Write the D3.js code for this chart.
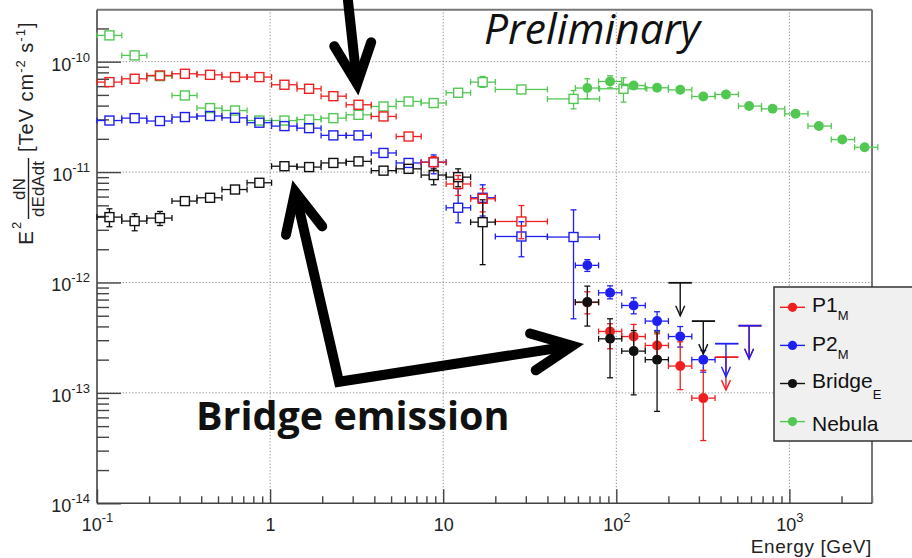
<!DOCTYPE html>
<html>
<head>
<meta charset="utf-8">
<script src="https://cdn.jsdelivr.net/npm/d3@7"></script>
<style>
  html, body { margin: 0; padding: 0; background: #fff; }
  svg { display: block; }
</style>
</head>
<body>
<svg id="chart" width="912" height="558"></svg>
<script>
// ---------------- data ----------------
// Fermi-LAT energy bins (GeV): bin edges and bin centres
const latEdges  = [0.1, 0.139, 0.194, 0.271, 0.378, 0.527, 0.736, 1.02, 1.43, 1.97, 2.75, 3.84, 5.35, 7.46, 10.4, 14.4, 20, 40, 80, 150];
const latEnergy = [0.118, 0.165, 0.231, 0.322, 0.45, 0.627, 0.867, 1.21, 1.68, 2.32, 3.24, 4.52, 6.31, 8.81, 12.2, 16.9, 28.3, 56.6, 110];

// MAGIC energy bins (GeV)
const magicEdges  = [58, 79, 107.5, 147, 200, 273, 372, 508, 690, 940, 1280, 1745, 2380, 3240];
const magicEnergy = [68, 92, 126, 172, 234, 318, 430, 585, 800, 1085, 1480, 2020, 2720];

// E^2 dN/dE [TeV cm^-2 s^-1]; null = error bar hidden by the marker
const p1LatFlux  = [6.53e-11, 7.0e-11, 7.5e-11, 7.77e-11, 7.6e-11, 7.25e-11, 7.25e-11, 6.18e-11, 5.68e-11, 4.87e-11, 4.07e-11, 3.19e-11, 2.1e-11, 1.23e-11, 7.8e-12, 5.73e-12, 3.57e-12];
const p1LatLo    = [null, null, null, null, null, null, null, null, null, null, null, null, null, 1.03e-11, 6.14e-12, 4.36e-12, 2.49e-12];
const p1LatHi    = [null, null, null, null, null, null, null, null, null, null, null, null, null, 1.38e-11, 9.31e-12, 7.06e-12, 4.98e-12];

const p2LatFlux  = [2.93e-11, 3.08e-11, 2.9e-11, 3.15e-11, 3.22e-11, 3.1e-11, 2.8e-11, 2.61e-11, 2.5e-11, 2.15e-11, 2.15e-11, 1.49e-11, 1.21e-11, 1.23e-11, 4.75e-12, 5.85e-12, 2.61e-12, 2.58e-12];
const p2LatLo    = [null, null, null, null, null, null, null, null, null, null, null, null, null, 9.65e-12, 3.47e-12, 4.0e-12, 1.71e-12, 4.69e-13];
const p2LatHi    = [null, null, null, null, null, null, null, null, null, null, null, null, null, 1.43e-11, 7.06e-12, 7.67e-12, 3.55e-12, 4.55e-12];

const bridgeLatFlux = [3.91e-12, 3.6e-12, 3.83e-12, 5.46e-12, 5.85e-12, 6.95e-12, 8.0e-12, 1.13e-11, 1.11e-11, 1.21e-11, 1.25e-11, 1.03e-11, 1.07e-11, 9.4e-12, 9.0e-12, 3.52e-12];
const bridgeLatLo   = [3.2e-12, 2.94e-12, 3.28e-12, null, null, null, null, null, null, null, null, null, null, 7.67e-12, 7.36e-12, 1.45e-12];
const bridgeLatHi   = [4.65e-12, 4.19e-12, 4.4e-12, null, null, null, null, null, null, null, null, null, null, 1.07e-11, 1.07e-11, 5.61e-12];

const nebulaLatFlux = [1.73e-10, 1.14e-10, 7.4e-11, 4.94e-11, 3.8e-11, 3.61e-11, 2.93e-11, 2.93e-11, 2.99e-11, 3.08e-11, 3.3e-11, 3.93e-11, 4.36e-11, 4.22e-11, 5.23e-11, 6.53e-11, 5.6e-11, 4.6e-11, 5.68e-11];
const nebulaLatLo   = [null, null, null, null, null, null, null, null, null, null, null, null, null, null, null, 5.85e-11, null, 3.74e-11, 4.3e-11];
const nebulaLatHi   = [null, null, null, null, null, null, null, null, null, null, null, null, null, null, null, 7.35e-11, null, 5.48e-11, 7.14e-11];

const p1MagicFlux = [6.6e-13, 3.6e-13, 3.24e-13, 2.69e-13, 1.75e-13, 8.97e-14];
const p1MagicLo   = [5.2e-13, 2.51e-13, 2.47e-13, 2.04e-13, 1.07e-13, 3.7e-14];
const p1MagicHi   = [8.24e-13, 4.23e-13, 4.17e-13, 3.43e-13, 2.9e-13, 1.6e-13];
const p1MagicUlBin = [6, 7];
const p1MagicUl    = [2.11e-13, 4.06e-13];

const p2MagicFlux = [1.43e-12, 8.07e-13, 6.19e-13, 4.47e-13, 3.24e-13, 2.0e-13];
const p2MagicLo   = [1.26e-12, 7.11e-13, 5.2e-13, 3.67e-13, 2.6e-13, 1.54e-13];
const p2MagicHi   = [1.61e-12, 9.33e-13, 7.26e-13, 5.43e-13, 3.99e-13, 2.42e-13];
const p2MagicUlBin = [6, 7];
const p2MagicUl    = [2.79e-13, 4.06e-13];

const bridgeMagicFlux = [6.64e-13, 3.09e-13, 2.39e-13, 2.0e-13];
const bridgeMagicLo   = [4.03e-13, 1.37e-13, 9.6e-14, 6.8e-14];
const bridgeMagicHi   = [9.27e-13, 4.69e-13, 3.67e-13, 3.56e-13];
const bridgeMagicUlBin = [4, 5];
const bridgeMagicUl    = [9.93e-13, 4.47e-13];

const nebulaMagicFlux = [5.77e-11, 6.62e-11, 6.08e-11, 5.8e-11, 5.56e-11, 4.84e-11, 5.05e-11, 3.96e-11, 3.74e-11, 3.37e-11, 2.61e-11, 1.97e-11, 1.68e-11];
const nebulaMagicLo   = [4.62e-11, 5.8e-11, null, null, null, null, null, null, null, null, null, null, null];
const nebulaMagicHi   = [7.0e-11, 7.45e-11, null, null, null, null, null, null, null, null, null, null, null];

// axis ticks and labels (base, exponent)
const xMajorTicks = [0.1, 1, 10, 100, 1000];
const xTickLabels = [["10", "-1"], ["1", ""], ["10", ""], ["10", "2"], ["10", "3"]];
const yMajorTicks = [1e-14, 1e-13, 1e-12, 1e-11, 1e-10];
const yTickLabels = [["10", "-14"], ["10", "-13"], ["10", "-12"], ["10", "-11"], ["10", "-10"]];

// legend
const legendNames = ["P1", "P2", "Bridge", "Nebula"];
const legendSubs  = ["M", "M", "E", ""];

// annotation arrows, in (energy GeV, flux) coordinates
const pointerArrow = [[2.79, 4.1e-10], [3.18, 6.3e-11]];
const bridgeArrow  = [[1.395, 6.64e-12], [2.5, 1.26e-13], [55.7, 2.67e-13]];

// ---------------- styles ----------------
const COLORS = { p1: "#f01f1f", p2: "#1f1ff2", bridge: "#111111", nebula: "#52c852" };
const FONT = "'Liberation Sans', Arial, Helvetica, sans-serif";
const CAL = "'Open Sans', 'Liberation Sans', sans-serif";

// ---------------- scales ----------------
const X0 = 97, X1 = 872, Y0 = 503.3, Y1 = 9.8;
const x = d3.scaleLog().domain([0.1, 3000]).range([X0, X1]);
const y = d3.scaleLog().domain([1e-14, 2.95e-10]).range([Y0, Y1]);

const svg = d3.select("#chart");

// ---------------- grid ----------------
const grid = svg.append("g").attr("stroke", "#8a8a8a").attr("stroke-width", 1).attr("stroke-dasharray", "1.2,2");
grid.selectAll("line.gx").data(xMajorTicks.filter(v => v > 0.1)).join("line")
  .attr("x1", d => x(d)).attr("x2", d => x(d)).attr("y1", Y0).attr("y2", Y1);
grid.selectAll("line.gy").data(yMajorTicks.filter(v => v > 1e-14)).join("line")
  .attr("x1", X0).attr("x2", X1).attr("y1", d => y(d)).attr("y2", d => y(d));

// ---------------- axes ----------------
function styleAxis(g) {
  g.select(".domain").remove();
  g.selectAll(".tick line").attr("stroke", "#444").attr("stroke-width", 1.4);
}

// minor ticks
svg.append("g").attr("transform", `translate(0,${Y0})`)
  .call(d3.axisBottom(x).tickValues(x.ticks().filter(v => !xMajorTicks.includes(v))).tickSize(-7).tickFormat(""))
  .call(styleAxis);
svg.append("g").attr("transform", `translate(${X0},0)`)
  .call(d3.axisLeft(y).tickValues(y.ticks().filter(v => !yMajorTicks.some(m => Math.abs(m - v) / m < 1e-6))).tickSize(-12).tickFormat(""))
  .call(styleAxis);

// major ticks with exponent labels
const xAx = svg.append("g").attr("transform", `translate(0,${Y0})`)
  .call(d3.axisBottom(x).tickValues(xMajorTicks).tickSize(-14).tickPadding(15).tickFormat(() => ""))
  .call(styleAxis);
xAx.selectAll(".tick text").each(function (d, i) {
  const t = d3.select(this).attr("font-family", FONT).attr("font-size", 18).attr("fill", "#222");
  t.append("tspan").text(xTickLabels[i][0]);
  if (xTickLabels[i][1]) t.append("tspan").attr("dy", -9).attr("font-size", 13).text(xTickLabels[i][1]);
});

const yAx = svg.append("g").attr("transform", `translate(${X0},0)`)
  .call(d3.axisLeft(y).tickValues(yMajorTicks).tickSize(-24).tickPadding(7).tickFormat(() => ""))
  .call(styleAxis);
yAx.selectAll(".tick text").each(function (d, i) {
  const t = d3.select(this).attr("font-family", FONT).attr("font-size", 18).attr("fill", "#222").attr("dy", 8.5);
  t.append("tspan").text(yTickLabels[i][0]);
  t.append("tspan").attr("dy", -9).attr("font-size", 13).text(yTickLabels[i][1]);
});

// frame
svg.append("line").attr("x1", X0).attr("x2", X1).attr("y1", Y1).attr("y2", Y1).attr("stroke", "#777").attr("stroke-width", 2);
svg.append("line").attr("x1", X1).attr("x2", X1).attr("y1", Y1).attr("y2", Y0).attr("stroke", "#777").attr("stroke-width", 2);
svg.append("line").attr("x1", X0).attr("x2", X0).attr("y1", Y1).attr("y2", Y0).attr("stroke", "#444").attr("stroke-width", 1.6);
svg.append("line").attr("x1", X0).attr("x2", X1).attr("y1", Y0).attr("y2", Y0).attr("stroke", "#444").attr("stroke-width", 1.6);

// axis titles
svg.append("text").attr("x", X1).attr("y", 553).attr("text-anchor", "end")
  .attr("font-family", FONT).attr("font-size", 19).attr("letter-spacing", 0.6).attr("fill", "#222").text("Energy [GeV]");

const yt = svg.append("g").attr("transform", "translate(33,245) rotate(-90)")
  .attr("font-family", FONT).attr("fill", "#222");
yt.append("text").attr("x", 0).attr("y", 0).attr("font-size", 21).text("E");
yt.append("text").attr("x", 16).attr("y", -12).attr("font-size", 13).text("2");
yt.append("text").attr("x", 56).attr("y", -8).attr("font-size", 17).attr("text-anchor", "middle").text("dN");
yt.append("line").attr("x1", 26).attr("x2", 87).attr("y1", -4.5).attr("y2", -4.5).attr("stroke", "#222").attr("stroke-width", 1.4);
yt.append("text").attr("x", 56).attr("y", 11).attr("font-size", 17).attr("text-anchor", "middle").text("dEdAdt");
const unit = yt.append("text").attr("x", 93).attr("y", 0).attr("font-size", 20).attr("letter-spacing", 1);
unit.append("tspan").text("[TeV cm");
unit.append("tspan").attr("dy", -8).attr("font-size", 13).text("-2");
unit.append("tspan").attr("dy", 8).text(" s");
unit.append("tspan").attr("dy", -8).attr("font-size", 13).text("-1");
unit.append("tspan").attr("dy", 8).text("]");

// ---------------- data marks ----------------
const plot = svg.append("g");

function buildPoints(energy, edges, flux, lo, hi) {
  return flux.map((f, i) => ({ e: energy[i], eLo: edges[i], eHi: edges[i + 1], f, fLo: lo[i], fHi: hi[i] }));
}

function drawSeries(pts, color, shape) {
  const half = shape === "square" ? 4.5 : 5;
  const cap = 3;
  const segs = [];
  pts.forEach(p => {
    const cx = x(p.e), cy = y(p.f);
    const xl = x(p.eLo), xr = x(p.eHi);
    if (xl < cx - half) { segs.push([xl, cy, cx - half, cy], [xl, cy - cap, xl, cy + cap]); }
    if (xr > cx + half) { segs.push([cx + half, cy, xr, cy], [xr, cy - cap, xr, cy + cap]); }
    if (p.fHi != null && y(p.fHi) < cy - half) {
      const yh = y(p.fHi);
      segs.push([cx, cy - half, cx, yh], [cx - cap, yh, cx + cap, yh]);
    }
    if (p.fLo != null && y(p.fLo) > cy + half) {
      const yl = y(p.fLo);
      segs.push([cx, cy + half, cx, yl], [cx - cap, yl, cx + cap, yl]);
    }
  });
  const g = plot.append("g");
  g.selectAll("line").data(segs).join("line")
    .attr("x1", d => d[0]).attr("y1", d => d[1]).attr("x2", d => d[2]).attr("y2", d => d[3])
    .attr("stroke", color).attr("stroke-width", 1.3);
  if (shape === "square") {
    g.selectAll("rect").data(pts).join("rect")
      .attr("x", d => x(d.e) - half).attr("y", d => y(d.f) - half)
      .attr("width", 2 * half).attr("height", 2 * half)
      .attr("fill", "none").attr("stroke", color).attr("stroke-width", 1.4);
  } else {
    g.selectAll("circle").data(pts).join("circle")
      .attr("cx", d => x(d.e)).attr("cy", d => y(d.f)).attr("r", half)
      .attr("fill", color);
  }
}

function drawLimits(bins, values, color) {
  const len = 33;
  const g = plot.append("g").attr("stroke", color).attr("stroke-width", 1.4).attr("fill", "none");
  bins.forEach((b, i) => {
    const cx = x(magicEnergy[b]), cy = y(values[i]);
    g.append("line").attr("x1", x(magicEdges[b])).attr("x2", x(magicEdges[b + 1])).attr("y1", cy).attr("y2", cy).attr("stroke-width", 1.8);
    g.append("line").attr("x1", cx).attr("x2", cx).attr("y1", cy).attr("y2", cy + len);
    g.append("polyline").attr("points", `${cx - 4.5},${cy + len - 10} ${cx},${cy + len} ${cx + 4.5},${cy + len - 10}`);
  });
}

drawSeries(buildPoints(latEnergy, latEdges, nebulaLatFlux, nebulaLatLo, nebulaLatHi), COLORS.nebula, "square");
drawSeries(buildPoints(magicEnergy, magicEdges, nebulaMagicFlux, nebulaMagicLo, nebulaMagicHi), COLORS.nebula, "circle");
drawSeries(buildPoints(latEnergy, latEdges, p2LatFlux, p2LatLo, p2LatHi), COLORS.p2, "square");
drawSeries(buildPoints(latEnergy, latEdges, p1LatFlux, p1LatLo, p1LatHi), COLORS.p1, "square");
drawSeries(buildPoints(latEnergy, latEdges, bridgeLatFlux, bridgeLatLo, bridgeLatHi), COLORS.bridge, "square");
drawSeries(buildPoints(magicEnergy, magicEdges, p2MagicFlux, p2MagicLo, p2MagicHi), COLORS.p2, "circle");
drawSeries(buildPoints(magicEnergy, magicEdges, p1MagicFlux, p1MagicLo, p1MagicHi), COLORS.p1, "circle");
drawSeries(buildPoints(magicEnergy, magicEdges, bridgeMagicFlux, bridgeMagicLo, bridgeMagicHi), COLORS.bridge, "circle");
drawLimits(p1MagicUlBin, p1MagicUl, COLORS.p1);
drawLimits(p2MagicUlBin, p2MagicUl, COLORS.p2);
drawLimits(bridgeMagicUlBin, bridgeMagicUl, COLORS.bridge);

// ---------------- legend ----------------
const legend = svg.append("g");
legend.append("rect").attr("x", 774).attr("y", 287).attr("width", 160).attr("height", 154)
  .attr("fill", "#f0f0f0").attr("stroke", "#333").attr("stroke-width", 1.5);
const legColors = [COLORS.p1, COLORS.p2, COLORS.bridge, COLORS.nebula];
const legBase = [5, 6, 4, 9];
const legSubDy = [8, 8, 11, 0];
legendNames.forEach((name, i) => {
  const cy = 307.3 + i * 38.1;
  legend.append("line").attr("x1", 780).attr("x2", 805).attr("y1", cy).attr("y2", cy).attr("stroke", legColors[i]).attr("stroke-width", 1.4);
  legend.append("circle").attr("cx", 792.5).attr("cy", cy).attr("r", 4.6).attr("fill", legColors[i]);
  const t = legend.append("text").attr("x", 812).attr("y", cy + legBase[i])
    .attr("font-family", FONT).attr("font-size", 21).attr("fill", "#111");
  t.append("tspan").text(name);
  if (legendSubs[i]) t.append("tspan").attr("dy", legSubDy[i]).attr("font-size", 13).text(legendSubs[i]);
});

// ---------------- annotations ----------------
const anno = svg.append("g").attr("stroke", "#000").attr("fill", "none").attr("stroke-width", 10);
function toPx(p) { return [x(p[0]), y(p[1])]; }
function arrowHead(tip, back) {
  const dx = back[0] - tip[0], dy = back[1] - tip[1];
  const L = Math.hypot(dx, dy), ux = dx / L, uy = dy / L;
  const a = 25 * Math.PI / 180, len = 44;
  const w1 = [tip[0] + len * (ux * Math.cos(a) - uy * Math.sin(a)), tip[1] + len * (ux * Math.sin(a) + uy * Math.cos(a))];
  const w2 = [tip[0] + len * (ux * Math.cos(a) + uy * Math.sin(a)), tip[1] + len * (-ux * Math.sin(a) + uy * Math.cos(a))];
  anno.append("path").attr("d", `M${w1}L${tip}L${w2}`)
    .attr("stroke-linecap", "round").attr("stroke-linejoin", "miter").attr("stroke-miterlimit", 10);
}
const pa = pointerArrow.map(toPx);
anno.append("path").attr("d", d3.line()(pa));
arrowHead(pa[1], pa[0]);
const ba = bridgeArrow.map(toPx);
anno.append("path").attr("d", d3.line()(ba)).attr("stroke-linejoin", "miter");
arrowHead(ba[0], ba[1]);
arrowHead(ba[2], ba[1]);

svg.append("text").attr("x", 484).attr("y", 44).attr("font-family", CAL).attr("font-style", "italic")
  .attr("font-size", 42.5).attr("fill", "#111").text("Preliminary");
svg.append("text").attr("x", 196).attr("y", 430).attr("font-family", CAL).attr("font-weight", "bold")
  .attr("font-size", 39.5).attr("fill", "#111").text("Bridge emission");
</script>
</body>
</html>
